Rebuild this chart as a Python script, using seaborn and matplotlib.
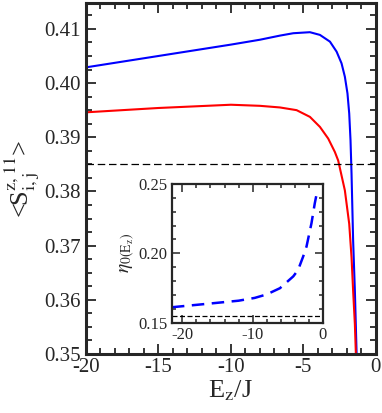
import numpy as np
import pandas as pd
import matplotlib
matplotlib.use('Agg')
import matplotlib.pyplot as plt
from matplotlib.ticker import MultipleLocator
import seaborn as sns

# datos
E_azul = [-20, -15, -10, -8, -6.62, -5.70, -4.55, -3.86, -3.17, -2.71, -2.37, -2.14, -1.96,
          -1.84, -1.75, -1.68, -1.57, -1.45, -1.33, -1.30]
S_azul = [0.4029, 0.4050, 0.4071, 0.4080, 0.40876, 0.40920, 0.40939, 0.40889, 0.40765, 0.40580,
          0.40365, 0.40117, 0.39809, 0.39439, 0.38944, 0.38328, 0.37093, 0.36167, 0.3500, 0.3470]
E_rojo = [-20, -15, -10, -8, -6.62, -5.47, -4.55, -3.86, -3.29, -2.83, -2.60, -2.14, -1.84,
          -1.68, -1.57, -1.45, -1.38, -1.35]
S_rojo = [0.3946, 0.3954, 0.3960, 0.3958, 0.39550, 0.39500, 0.39376, 0.39191, 0.38976, 0.38728,
          0.3857, 0.38019, 0.37402, 0.36783, 0.36167, 0.3555, 0.3500, 0.3470]
S_ref = 0.385

E_eta = [-21.5, -16.6, -12, -9.7, -8, -6.1, -4.2, -3.52, -2.8, -2.32, -1.61, -1.14, -0.9]
eta = [0.1613, 0.1637, 0.1660, 0.1680, 0.1705, 0.1750, 0.1835, 0.1881, 0.1977, 0.2049,
       0.2217, 0.2360, 0.2421]
eta_ref = 0.155

sns.set_style('ticks')
plt.rcParams['font.family'] = ['Liberation Serif', 'DejaVu Serif']
plt.rcParams['mathtext.fontset'] = 'stix'

fig = plt.figure(figsize=(3.82, 4.13), dpi=100)
ax = fig.add_axes([0.225, 0.143, 0.759, 0.850])

df_azul = pd.DataFrame({'E': E_azul, 'S': S_azul})
df_rojo = pd.DataFrame({'E': E_rojo, 'S': S_rojo})
sns.lineplot(data=df_azul, x='E', y='S', color='#0000ff', lw=1.5, ax=ax, sort=False)
sns.lineplot(data=df_rojo, x='E', y='S', color='#ff0000', lw=1.5, ax=ax, sort=False)
ax.axhline(S_ref, color='black', lw=0.9, ls=(0, (6, 3)))

ax.set_xlim(-20, 0)
ax.set_ylim(0.35, 0.4148)
ax.xaxis.set_major_locator(MultipleLocator(5))
ax.xaxis.set_minor_locator(MultipleLocator(1))
ax.yaxis.set_major_locator(MultipleLocator(0.01))
ax.yaxis.set_minor_locator(MultipleLocator(0.0025))
ax.set_xticks([-20, -15, -10, -5, 0])
ax.set_xticklabels(['-20', '-15', '-10', '-5', '0'])
ax.set_yticks([0.35, 0.36, 0.37, 0.38, 0.39, 0.40, 0.41])
ax.set_yticklabels(['0.35', '0.36', '0.37', '0.38', '0.39', '0.40', '0.41'])
ax.tick_params(which='both', direction='in', top=True, right=True, labelsize=15, width=1.3, pad=3)
ax.tick_params(which='major', length=7)
ax.tick_params(which='minor', length=4)
ax.tick_params(axis='y', pad=4)
for s in ax.spines.values():
    s.set_linewidth(2.2)
ax.set_xlabel(r'E$_{\rm z}$/J', fontsize=19, labelpad=1)
ax.set_ylabel(r'<S$^{\rm z,11}_{\rm i,j}$>', fontsize=19, labelpad=1)

# recuadro
axi = fig.add_axes([0.450, 0.218, 0.395, 0.337])
df_eta = pd.DataFrame({'E': E_eta, 'eta': eta})
sns.lineplot(data=df_eta, x='E', y='eta', color='#0000ff', lw=1.8, ls=(0, (5, 3)), ax=axi)
axi.axhline(eta_ref, color='black', lw=0.9, ls=(0, (4, 2)))
axi.set_xlim(-21.5, 0)
axi.set_ylim(0.15, 0.25)
axi.set_xticks([-20, -10, 0])
axi.set_xticklabels(['-20', '-10', '0'])
axi.set_yticks([0.15, 0.20, 0.25])
axi.set_yticklabels(['0.15', '0.20', '0.25'])
axi.xaxis.set_minor_locator(MultipleLocator(2))
axi.yaxis.set_minor_locator(MultipleLocator(0.01))
axi.tick_params(which='both', direction='in', top=True, right=True, labelsize=12, width=1.1, pad=3)
axi.tick_params(which='major', length=6)
axi.tick_params(which='minor', length=3)
for s in axi.spines.values():
    s.set_linewidth(1.6)
axi.set_xlabel('')
axi.set_ylabel(r'$\eta_{\rm 0(E_z)}$', fontsize=14, labelpad=1)

fig.savefig('out.png', dpi=100)
